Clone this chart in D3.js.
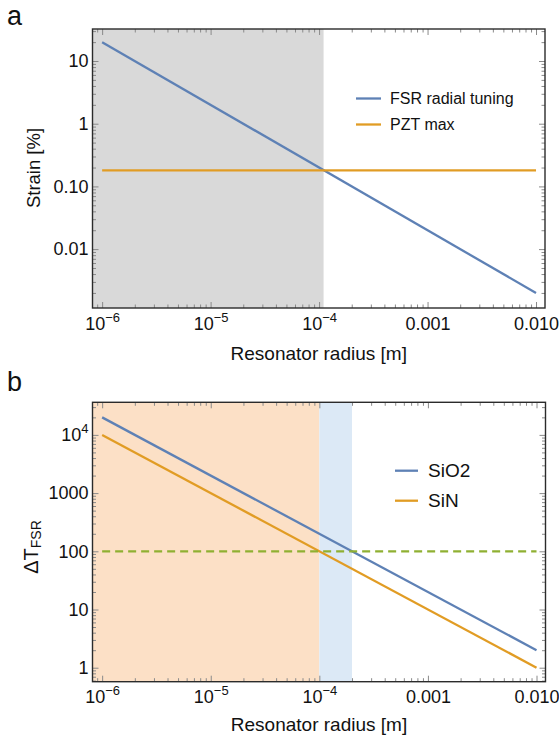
<!DOCTYPE html>
<html><head><meta charset="utf-8">
<script src="https://cdn.jsdelivr.net/npm/d3@7"></script>
<style>
html,body{margin:0;padding:0;background:#fff;}
text{font-family:"Liberation Sans",Arial,sans-serif;fill:#111;}
</style></head>
<body>
<svg id="chart" width="559" height="738"></svg>
<script>
// ---- data ----
const radius = [1e-6, 1e-2];                 // resonator radius [m]
const fsrStrain = [20, 0.002];               // FSR radial tuning strain [%]
const pztMax = [0.18, 0.18];                 // PZT max strain [%]
const grayShadeEnd = 1.1e-4;                 // panel a shaded region end
const sio2 = [20000, 2];                     // ΔT_FSR SiO2
const sinN = [10000, 1];                     // ΔT_FSR SiN
const threshold = [100, 100];                // dashed level
const orangeShadeEnd = 1e-4;
const blueShade = [1e-4, 2e-4];

const xTicks = [1e-6, 1e-5, 1e-4, 1e-3, 1e-2];
const xTickLabels = ["10^−6", "10^−5", "10^−4", "0.001", "0.010"];
const yTicksA = [10, 1, 0.1, 0.01];
const yTickLabelsA = ["10", "1", "0.10", "0.01"];
const yTicksB = [1e4, 1000, 100, 10, 1];
const yTickLabelsB = ["10^4", "1000", "100", "10", "1"];

const legendA = ["FSR radial tuning", "PZT max"];
const legendB = ["SiO2", "SiN"];

const BLUE = "#5E81B5", ORANGE = "#E19C24", GREEN = "#8FB032";

const svg = d3.select("#chart");

function minorTicks(domain) {
  const lo = Math.min(...domain), hi = Math.max(...domain);
  const out = [];
  for (let k = Math.floor(Math.log10(lo)) - 1; k <= Math.ceil(Math.log10(hi)); k++) {
    for (let m = 2; m <= 9; m++) {
      const v = m * Math.pow(10, k);
      if (v > lo && v < hi) out.push(v);
    }
  }
  return out;
}

function styleLabels(g, labels, supSize, supDy) {
  g.selectAll(".tick text").each(function(d, i) {
    const parts = labels[i].split("^");
    const t = d3.select(this);
    t.text(parts[0]);
    if (parts[1]) t.append("tspan").attr("dy", supDy).attr("font-size", supSize).text(parts[1]);
  });
}

function panel(cfg) {
  const x = d3.scaleLog().domain([8.15e-7, 1.21e-2]).range(cfg.xr);
  const y = d3.scaleLog().domain(cfg.yd).range(cfg.yr);
  const [x0, x1] = cfg.xr, [y0, y1] = cfg.yr;
  const g = svg.append("g");

  // shaded regions
  cfg.shades.forEach(s => {
    const a = s.from == null ? x0 : x(s.from);
    g.append("rect").attr("x", a).attr("y", y0).attr("width", x(s.to) - a)
      .attr("height", y1 - y0).attr("fill", s.color);
  });

  // axes / ticks
  const tickCol = "#8a8a8a";
  const mkAxis = (axisFn, scale, vals, size, labels, pos, pad) => {
    const ax = axisFn(scale).tickValues(vals).tickSizeInner(size).tickSizeOuter(0)
      .tickPadding(pad || 0).tickFormat(labels ? (d, i) => labels[i] : () => "");
    const gg = g.append("g").attr("transform", pos).call(ax);
    gg.select(".domain").remove();
    gg.selectAll(".tick line").attr("stroke", tickCol).attr("stroke-width", 1);
    gg.selectAll(".tick text").attr("font-size", "18px").attr("fill", "#111")
      .attr("font-family", "Liberation Sans, Arial, sans-serif");
    return gg;
  };
  const xMin = minorTicks(x.domain());
  const yMin = minorTicks(y.domain());
  const gxb = mkAxis(d3.axisBottom, x, cfg.xTicks, -6, cfg.xLabels, `translate(0,${y1})`, 9);
  styleLabels(gxb, cfg.xLabels, "13px", "-8");
  mkAxis(d3.axisBottom, x, xMin, -3.5, null, `translate(0,${y1})`);
  mkAxis(d3.axisTop, x, cfg.xTicks, -6, null, `translate(0,${y0})`);
  mkAxis(d3.axisTop, x, xMin, -3.5, null, `translate(0,${y0})`);
  const gyl = mkAxis(d3.axisLeft, y, cfg.yTicks, -6, cfg.yLabels, `translate(${x0},0)`, 4);
  styleLabels(gyl, cfg.yLabels, "13px", "-8");
  mkAxis(d3.axisLeft, y, yMin, -3.5, null, `translate(${x0},0)`);
  mkAxis(d3.axisRight, y, cfg.yTicks, -6, null, `translate(${x1},0)`);
  mkAxis(d3.axisRight, y, yMin, -3.5, null, `translate(${x1},0)`);

  // series
  const line = d3.line().x(d => x(d[0])).y(d => y(d[1]));
  cfg.series.forEach(s => {
    g.append("path").datum(radius.map((r, i) => [r, s.values[i]]))
      .attr("d", line).attr("fill", "none").attr("stroke", s.color)
      .attr("stroke-width", 2.3).attr("stroke-dasharray", s.dash || null);
  });

  // frame
  g.append("rect").attr("x", x0).attr("y", y0).attr("width", x1 - x0).attr("height", y1 - y0)
    .attr("fill", "none").attr("stroke", "#2b2b2b").attr("stroke-width", 1.4);

  // legend
  cfg.legend.forEach((name, i) => {
    const ly = cfg.leg.y + i * cfg.leg.dy;
    g.append("line").attr("x1", cfg.leg.x).attr("x2", cfg.leg.x + cfg.leg.len)
      .attr("y1", ly).attr("y2", ly).attr("stroke", cfg.series[i].color).attr("stroke-width", 2.3);
    g.append("text").attr("x", cfg.leg.x + cfg.leg.len + cfg.leg.gap).attr("y", ly)
      .attr("dy", "0.35em").attr("font-size", cfg.leg.fs).text(name);
  });

  // x title
  g.append("text").attr("x", (x0 + x1) / 2).attr("y", cfg.xTitleY).attr("text-anchor", "middle")
    .attr("font-size", "19px").text("Resonator radius [m]");

  // panel letter
  svg.append("text").attr("x", 7).attr("y", cfg.letterY).attr("font-size", "27px")
    .attr("font-family", "Open Sans, Noto Sans, sans-serif").text(cfg.letter);
  return g;
}

panel({
  xr: [92.5, 545], yd: [32.4, 0.00115], yr: [29, 308],
  xTicks, xLabels: xTickLabels, yTicks: yTicksA, yLabels: yTickLabelsA,
  shades: [{ from: null, to: grayShadeEnd, color: "#d9d9d9" }],
  series: [{ values: fsrStrain, color: BLUE }, { values: pztMax, color: ORANGE }],
  legend: legendA, leg: { x: 356, y: 98.5, dy: 26, len: 25, gap: 9, fs: "16px" },
  xTitleY: 360, letter: "a", letterY: 25
});
svg.append("text").attr("transform", "translate(40,168) rotate(-90)")
  .attr("text-anchor", "middle").attr("font-size", "18.5px").text("Strain [%]");

panel({
  xr: [92.5, 545.5], yd: [36300, 0.575], yr: [402.3, 681.7],
  xTicks, xLabels: xTickLabels, yTicks: yTicksB, yLabels: yTickLabelsB,
  shades: [{ from: null, to: orangeShadeEnd, color: "#fce0c6" },
           { from: blueShade[0], to: blueShade[1], color: "#dce9f6" }],
  series: [{ values: sio2, color: BLUE }, { values: sinN, color: ORANGE },
           { values: threshold, color: GREEN, dash: "8,5" }],
  legend: legendB, leg: { x: 395, y: 470.7, dy: 30, len: 23, gap: 10, fs: "19px" },
  xTitleY: 731, letter: "b", letterY: 391
});
const yl = svg.append("text").attr("transform", "translate(38,547) rotate(-90)")
  .attr("text-anchor", "middle").attr("font-size", "20px");
yl.append("tspan").text("ΔT");
yl.append("tspan").attr("font-size", "14px").attr("dy", "3").text("FSR");
</script>
</body></html>
